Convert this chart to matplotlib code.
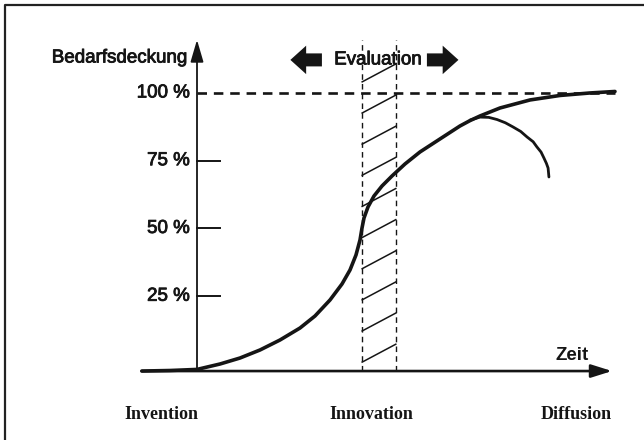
import numpy as np
import matplotlib
matplotlib.use("Agg")
import matplotlib.pyplot as plt
import matplotlib.patheffects as pe

# y ticks (Bedarfsdeckung in %)
tick_vals = [25, 50, 75, 100]
tick_labels = ["25 %", "50 %", "75 %", "100 %"]

# main diffusion curve (time, coverage %)
curve_t = [-13.3, -6.5, 0.0, 5.54, 10.36, 15.18, 20.0, 24.82, 28.43, 32.05,
           34.94, 36.87, 38.31, 39.28, 39.76, 40.24, 41.2, 42.65, 44.58, 46.99,
           50.12, 53.73, 58.55, 63.37, 65.78, 68.19, 73.01, 80.24, 87.47, 94.7, 100.72]
curve_p = [-2.6, -2.4, -2.0, 0.0, 2.21, 5.17, 8.86, 13.28, 17.71, 23.62,
           29.52, 34.69, 40.22, 45.76, 50.18, 53.87, 57.93, 61.99, 65.68, 69.37,
           73.8, 78.23, 83.03, 87.82, 89.8, 91.51, 94.46, 97.42, 99.08, 100.0, 100.55]

# branch that drops off again
bump_t = [65.8, 68.2, 70.3, 72.3, 74.3, 76.1, 78.0, 79.5, 81.0, 81.9, 82.9, 83.6, 84.2, 84.6, 84.8]
bump_p = [90.0, 91.1, 91.0, 90.2, 89.0, 87.5, 85.8, 83.8, 82.0, 80.1, 78.2, 76.0, 74.0, 72.3, 69.0]

# evaluation band
band = (39.8, 47.9)

phases = ["Invention", "Innovation", "Diffusion"]
phase_t = [-8.5, 42.0, 91.3]

ink = "#151515"
base = -2.6     # level of the time axis
top = 119.6     # top of the y axis / band
heavy = [pe.withStroke(linewidth=0.6, foreground=ink)]

fig = plt.figure(figsize=(6.44, 4.4), dpi=100)
ax = fig.add_axes([0, 0, 1, 1])
ax.set_xlim(-47.47, 107.71)
ax.set_ylim(-28.04, 134.3)
ax.axis("off")

# frame (only left and top edge visible in the scan)
ax.plot([0.008, 0.008, 1.0], [0.0, 0.988, 0.988], transform=ax.transAxes,
        color="#222222", lw=1.6, solid_capstyle="butt")

# axes with arrow heads
ax.annotate("", xy=(0, top), xytext=(0, base),
            arrowprops=dict(arrowstyle="-|>,head_length=0.75,head_width=0.22",
                            mutation_scale=18, lw=1.3, color=ink,
                            shrinkA=0, shrinkB=0))
ax.annotate("", xy=(100, base), xytext=(curve_t[0], base),
            arrowprops=dict(arrowstyle="-|>,head_length=0.7,head_width=0.22",
                            mutation_scale=18, lw=1.9, color=ink,
                            shrinkA=0, shrinkB=0))

# ticks and labels
for v, lab in zip(tick_vals, tick_labels):
    if v == 100:
        ax.plot([0, 100.7], [v, v], color=ink, lw=1.9, ls=(0, (3.6, 2.6)))
    else:
        ax.plot([0, 5.6], [v, v], color=ink, lw=1.4)
    ax.text(-1.7, v, lab, ha="right", va="center", fontsize=13.5,
            family="Liberation Sans", color=ink, path_effects=heavy)

ax.text(-2.4, 112.9, "Bedarfsdeckung", ha="right", va="center", fontsize=13.5,
        family="Liberation Sans", color=ink, path_effects=heavy)
ax.text(90.4, 3.3, "Zeit", ha="center", va="center", fontsize=13.5,
        family="Liberation Sans", fontweight="bold", color=ink)

# evaluation band with hatching
for bx in band:
    ax.plot([bx, bx], [base, top], color=ink, lw=1.0, ls=(0, (4, 3)))
rise = 6.6
for y0 in np.linspace(0.7, 104.1, 10):
    ax.plot(band, [y0, y0 + rise], color=ink, lw=1.1)

# Evaluation label with block arrows
ev_y = 112.2
ax.text(43.6, ev_y, "Evaluation", ha="center", va="center", fontsize=13.5,
        family="Liberation Sans", color=ink, path_effects=heavy)
ax.arrow(30.1, ev_y, -7.6, 0, width=4.8, head_width=10.5, head_length=3.8,
         length_includes_head=True, color=ink, lw=0)
ax.arrow(55.4, ev_y, 7.6, 0, width=4.8, head_width=10.5, head_length=3.8,
         length_includes_head=True, color=ink, lw=0)

# curves
ax.plot(curve_t, curve_p, color=ink, lw=2.6, solid_capstyle="round",
        solid_joinstyle="round")
ax.plot(bump_t, bump_p, color=ink, lw=2.0, solid_capstyle="round",
        solid_joinstyle="round")

# phase labels
for name, t in zip(phases, phase_t):
    ax.text(t, -18.8, name, ha="center", va="center", fontsize=13,
            family="Liberation Serif", fontweight="bold", color=ink)

fig.savefig("out.png", dpi=100)
